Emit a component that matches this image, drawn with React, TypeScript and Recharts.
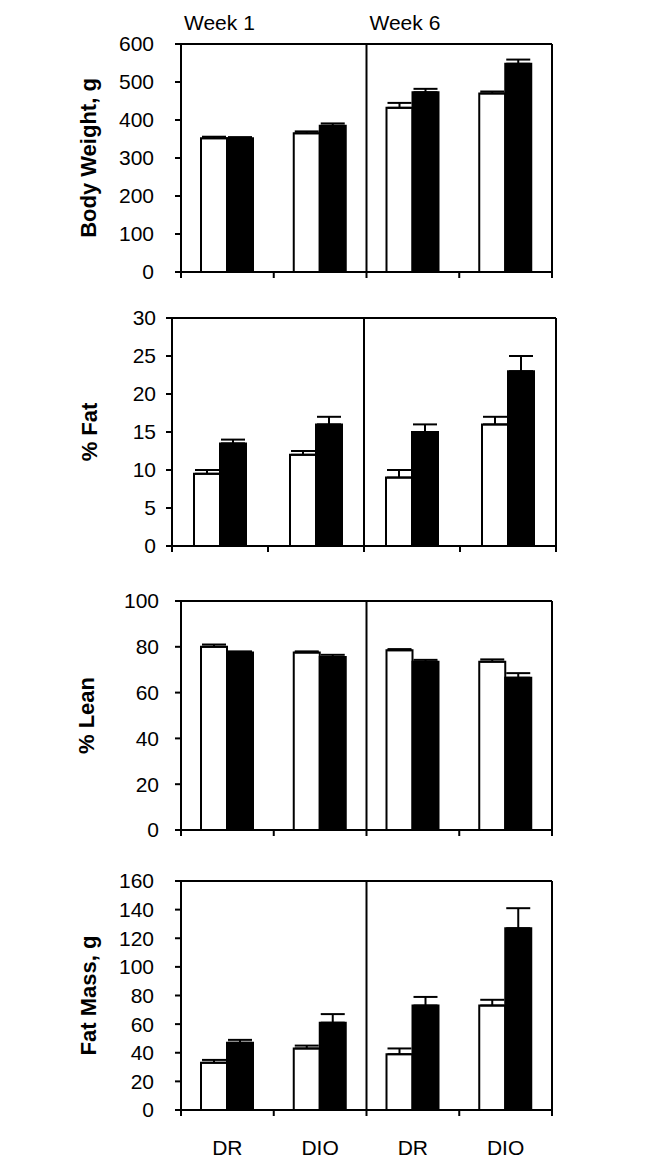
import { BarChart, Bar, XAxis, YAxis, ErrorBar, ReferenceLine } from 'recharts';

// groups along the x axis (week 1 | week 6)
const CATEGORIES = ['DR', 'DIO', 'DR', 'DIO'];
const WEEK_LABELS = ['Week 1', 'Week 6'];

// body weight, g
const BW_OPEN = [352, 365, 432, 470];
const BW_OPEN_ERR = [4, 5, 13, 5];
const BW_FILLED = [352, 385, 473, 548];
const BW_FILLED_ERR = [3, 6, 9, 11];
const BW_TICKS = [0, 100, 200, 300, 400, 500, 600];

// % fat
const FAT_PCT_OPEN = [9.5, 12, 9, 16];
const FAT_PCT_OPEN_ERR = [0.5, 0.5, 1, 1];
const FAT_PCT_FILLED = [13.5, 16, 15, 23];
const FAT_PCT_FILLED_ERR = [0.5, 1, 1, 2];
const FAT_PCT_TICKS = [0, 5, 10, 15, 20, 25, 30];

// % lean
const LEAN_OPEN = [80, 77.5, 78.5, 73.5];
const LEAN_OPEN_ERR = [1, 0.5, 0.5, 1];
const LEAN_FILLED = [77.5, 75.5, 73.5, 66.5];
const LEAN_FILLED_ERR = [0.5, 1, 0.8, 2];
const LEAN_TICKS = [0, 20, 40, 60, 80, 100];

// fat mass, g
const FAT_MASS_OPEN = [33, 43, 39, 73];
const FAT_MASS_OPEN_ERR = [2, 2, 4, 4];
const FAT_MASS_FILLED = [47, 61, 73, 127];
const FAT_MASS_FILLED_ERR = [2, 6, 6, 14];
const FAT_MASS_TICKS = [0, 20, 40, 60, 80, 100, 120, 140, 160];

const FONT = '"Liberation Sans", Arial, Helvetica, sans-serif';

function buildRows(open: number[], openErr: number[], filled: number[], filledErr: number[]) {
  return CATEGORIES.map((name, i) => ({
    x: i + 0.5,
    name,
    open: open[i],
    openErr: [0, openErr[i]],
    filled: filled[i],
    filledErr: [0, filledErr[i]],
  }));
}

const PANELS = [
  { label: 'Body Weight, g', rows: buildRows(BW_OPEN, BW_OPEN_ERR, BW_FILLED, BW_FILLED_ERR), ticks: BW_TICKS },
  { label: '% Fat', rows: buildRows(FAT_PCT_OPEN, FAT_PCT_OPEN_ERR, FAT_PCT_FILLED, FAT_PCT_FILLED_ERR), ticks: FAT_PCT_TICKS },
  { label: '% Lean', rows: buildRows(LEAN_OPEN, LEAN_OPEN_ERR, LEAN_FILLED, LEAN_FILLED_ERR), ticks: LEAN_TICKS },
  { label: 'Fat Mass, g', rows: buildRows(FAT_MASS_OPEN, FAT_MASS_OPEN_ERR, FAT_MASS_FILLED, FAT_MASS_FILLED_ERR), ticks: FAT_MASS_TICKS },
];

// plot boxes in page px
const LAYOUT = [
  { top: 44, bottom: 272, left: 181, right: 552, gap: 27, labelX: 88 },
  { top: 318, bottom: 546, left: 172, right: 556, gap: 16, labelX: 89 },
  { top: 601, bottom: 830, left: 181, right: 552, gap: 22, labelX: 86 },
  { top: 881, bottom: 1110, left: 181, right: 552, gap: 27, labelX: 88 },
];

const BOTTOM_TICKS = [0, 0.5, 1, 1.5, 2, 2.5, 3, 3.5, 4];

function Panel({ panel, box, first, last }: any) {
  const topPad = first ? box.top : 20;
  const bottomPad = last ? 56 : 12;
  const chartTop = box.top - topPad;
  const height = topPad + (box.bottom - box.top) + bottomPad;
  const max = panel.ticks[panel.ticks.length - 1];
  const midY = topPad + (box.bottom - box.top) / 2;

  const bottomTick = (props: any) => {
    const { x, y, payload } = props;
    const v = payload.value;
    if (Number.isInteger(v)) {
      return <line x1={x} y1={y} x2={x} y2={y + 6} stroke="#000" strokeWidth={2} />;
    }
    if (!last) return <g />;
    return (
      <text x={x} y={y + 45} textAnchor="middle" fontSize={21} fontFamily={FONT} fill="#000">
        {CATEGORIES[Math.floor(v)]}
      </text>
    );
  };

  const weekTick = (props: any) => {
    const { x, y, payload } = props;
    return (
      <text x={x + 3} y={y - 14} fontSize={21} fontFamily={FONT} fill="#000">
        {WEEK_LABELS[payload.value / 2]}
      </text>
    );
  };

  const yLabel = () => (
    <text
      x={box.labelX}
      y={midY}
      transform={`rotate(-90, ${box.labelX}, ${midY})`}
      textAnchor="middle"
      dominantBaseline="central"
      fontSize={22}
      fontWeight="bold"
      fontFamily={FONT}
      fill="#000"
    >
      {panel.label}
    </text>
  );

  return (
    <div style={{ position: 'absolute', left: 0, top: chartTop }}>
      <BarChart
        width={660}
        height={height}
        data={panel.rows}
        margin={{ top: 0, right: 660 - box.right, bottom: 0, left: 0 }}
        barGap={0}
        barSize={26}
      >
        <XAxis
          xAxisId="top"
          orientation="top"
          type="number"
          dataKey="x"
          domain={[0, 4]}
          ticks={[0, 2]}
          interval={0}
          height={topPad}
          axisLine={{ stroke: '#000', strokeWidth: 2 }}
          tickLine={false}
          tickSize={0}
          tickMargin={0}
          tick={first ? weekTick : false}
        />
        <XAxis
          xAxisId="main"
          type="number"
          dataKey="x"
          domain={[0, 4]}
          ticks={BOTTOM_TICKS}
          interval={0}
          height={bottomPad}
          axisLine={{ stroke: '#000', strokeWidth: 2 }}
          tickLine={false}
          tickSize={0}
          tickMargin={0}
          tick={bottomTick}
        />
        <YAxis
          type="number"
          domain={[0, max]}
          ticks={panel.ticks}
          interval={0}
          width={box.left}
          axisLine={{ stroke: '#000', strokeWidth: 2 }}
          tickLine={{ stroke: '#000', strokeWidth: 2 }}
          tickSize={6}
          tickMargin={box.gap - 6}
          tick={{ fill: '#000', fontSize: 21, fontFamily: FONT }}
          label={yLabel}
        />
        <ReferenceLine xAxisId="main" x={2} stroke="#000" strokeWidth={2} />
        <ReferenceLine xAxisId="main" x={4} stroke="#000" strokeWidth={2} />
        <Bar xAxisId="main" dataKey="open" fill="#fff" stroke="#000" strokeWidth={2} isAnimationActive={false}>
          <ErrorBar dataKey="openErr" direction="y" width={12} stroke="#000" strokeWidth={2} />
        </Bar>
        <Bar xAxisId="main" dataKey="filled" fill="#000" stroke="#000" strokeWidth={2} isAnimationActive={false}>
          <ErrorBar dataKey="filledErr" direction="y" width={12} stroke="#000" strokeWidth={2} />
        </Bar>
      </BarChart>
    </div>
  );
}

export default function App() {
  return (
    <div style={{ position: 'absolute', left: 0, top: 0, width: 660, height: 1168, background: '#fff' }}>
      {PANELS.map((panel, i) => (
        <Panel key={panel.label} panel={panel} box={LAYOUT[i]} first={i === 0} last={i === PANELS.length - 1} />
      ))}
    </div>
  );
}
